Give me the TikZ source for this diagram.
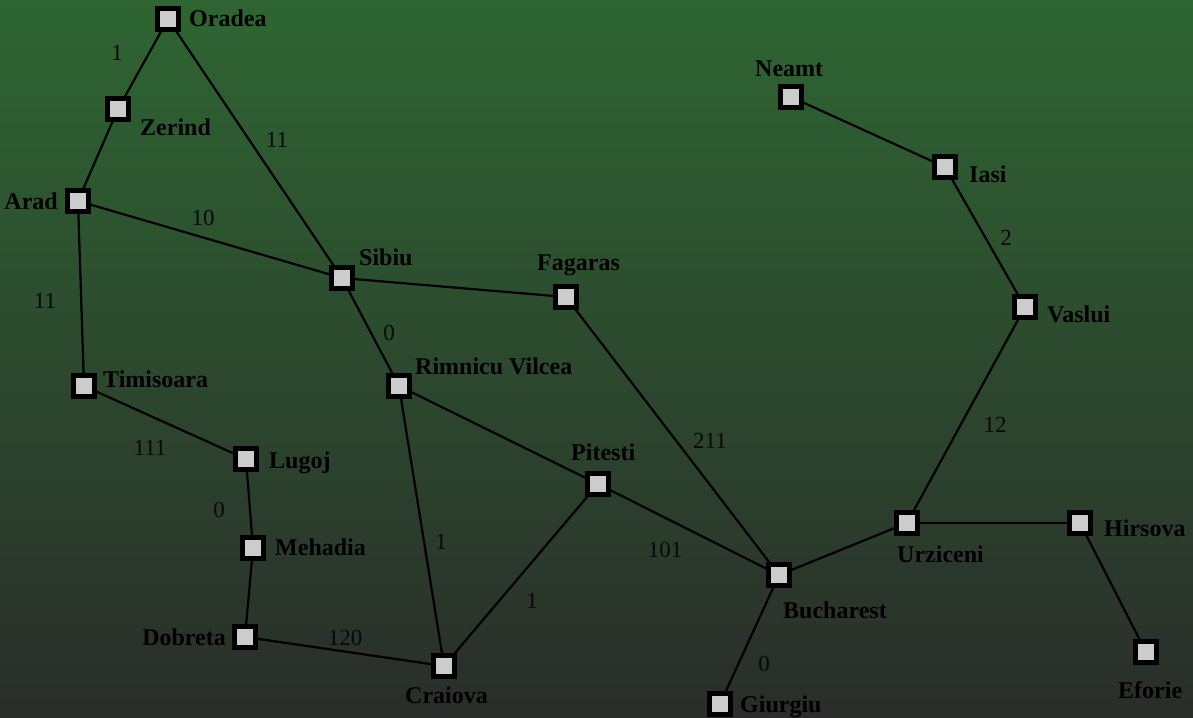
\documentclass[tikz,border=0pt]{standalone}
\usepackage{fontspec}
\setmainfont{Liberation Serif}
\definecolor{boxfill}{RGB}{204,204,204}
\definecolor{bgtop}{RGB}{46,101,50}
\definecolor{bgbot}{RGB}{42,45,42}
\definecolor{costtext}{RGB}{8,8,8}
\begin{document}
\begin{tikzpicture}[x=1pt,y=-1pt,
  city/.style={rectangle,draw=black,line width=5.2pt,fill=boxfill,minimum size=20.4pt,inner sep=0pt},
  cityname/.style={inner sep=0pt,font=\fontsize{24}{26}\selectfont\bfseries,text=black},
  cost/.style={inner sep=0pt,font=\fontsize{23}{25}\selectfont,text=costtext,anchor=base},
  road/.style={line width=2.2pt,draw=black}]
\shade[top color=bgtop,bottom color=bgbot] (0,0) rectangle (1193,717);
\useasboundingbox (0,0) rectangle (1193,717);
% cities
\node[city] (oradea) at (168,19) {};
\node[city] (zerind) at (118,109) {};
\node[city] (arad) at (78,201) {};
\node[city] (sibiu) at (342,278) {};
\node[city] (fagaras) at (566,297) {};
\node[city] (timisoara) at (84,386) {};
\node[city] (rimnicu) at (399,386) {};
\node[city] (lugoj) at (246,459) {};
\node[city] (pitesti) at (598,484) {};
\node[city] (mehadia) at (253,548) {};
\node[city] (dobreta) at (245,637) {};
\node[city] (craiova) at (444,666) {};
\node[city] (bucharest) at (779,575) {};
\node[city] (giurgiu) at (720,704) {};
\node[city] (urziceni) at (907,523) {};
\node[city] (hirsova) at (1080,523) {};
\node[city] (eforie) at (1146,652) {};
\node[city] (vaslui) at (1025,307) {};
\node[city] (iasi) at (945,167) {};
\node[city] (neamt) at (791,97) {};
% names
\node[cityname,anchor=base west] (l-oradea) at (189,27) {Oradea};
\node[cityname,anchor=base west] (l-zerind) at (140,135) {Zerind};
\node[cityname,anchor=base east] (l-arad) at (58,209) {Arad};
\node[cityname,anchor=base west] (l-sibiu) at (359,265) {Sibiu};
\node[cityname,anchor=base west] (l-fagaras) at (537,270) {Fagaras};
\node[cityname,anchor=base west] (l-timisoara) at (103,387) {Timisoara};
\node[cityname,anchor=base west] (l-rimnicu) at (415,374) {Rimnicu Vilcea};
\node[cityname,anchor=base west] (l-lugoj) at (269,468) {Lugoj};
\node[cityname,anchor=base west] (l-pitesti) at (571,460) {Pitesti};
\node[cityname,anchor=base west] (l-mehadia) at (275,555) {Mehadia};
\node[cityname,anchor=base east] (l-dobreta) at (226,645) {Dobreta};
\node[cityname,anchor=base west] (l-craiova) at (405,703) {Craiova};
\node[cityname,anchor=base west] (l-bucharest) at (783,618) {Bucharest};
\node[cityname,anchor=base west] (l-giurgiu) at (740,712) {Giurgiu};
\node[cityname,anchor=base west] (l-urziceni) at (897,562) {Urziceni};
\node[cityname,anchor=base west] (l-hirsova) at (1104,536) {Hirsova};
\node[cityname,anchor=base west] (l-eforie) at (1118,698) {Eforie};
\node[cityname,anchor=base west] (l-neamt) at (755,77) {Neamt};
\node[cityname,anchor=base west] (l-iasi) at (969,182) {Iasi};
\node[cityname,anchor=base west] (l-vaslui) at (1047,322) {Vaslui};
% roads
\draw[road] (oradea) -- (zerind);
\draw[road] (oradea) -- (sibiu);
\draw[road] (zerind) -- (arad);
\draw[road] (arad) -- (sibiu);
\draw[road] (arad) -- (timisoara);
\draw[road] (sibiu) -- (fagaras);
\draw[road] (sibiu) -- (rimnicu);
\draw[road] (timisoara) -- (lugoj);
\draw[road] (lugoj) -- (mehadia);
\draw[road] (mehadia) -- (dobreta);
\draw[road] (dobreta) -- (craiova);
\draw[road] (rimnicu) -- (craiova);
\draw[road] (rimnicu) -- (pitesti);
\draw[road] (pitesti) -- (craiova);
\draw[road] (pitesti) -- (bucharest);
\draw[road] (fagaras) -- (bucharest);
\draw[road] (bucharest) -- (giurgiu);
\draw[road] (bucharest) -- (urziceni);
\draw[road] (urziceni) -- (hirsova);
\draw[road] (hirsova) -- (eforie);
\draw[road] (urziceni) -- (vaslui);
\draw[road] (vaslui) -- (iasi);
\draw[road] (iasi) -- (neamt);
% costs
\node[cost] (c-oz) at (117,60) {1};
\node[cost] (c-os) at (277,147) {11};
\node[cost] (c-as) at (203,225) {10};
\node[cost] (c-at) at (45,308) {11};
\node[cost] (c-sr) at (389,340) {0};
\node[cost] (c-tl) at (150,455) {111};
\node[cost] (c-lm) at (219,517) {0};
\node[cost] (c-rc) at (441,549) {1};
\node[cost] (c-dc) at (345,645) {120};
\node[cost] (c-fb) at (710,448) {211};
\node[cost] (c-pb) at (665,557) {101};
\node[cost] (c-pc) at (532,608) {1};
\node[cost] (c-bg) at (764,671) {0};
\node[cost] (c-uv) at (995,432) {12};
\node[cost] (c-vi) at (1006,245) {2};
\end{tikzpicture}
\end{document}
